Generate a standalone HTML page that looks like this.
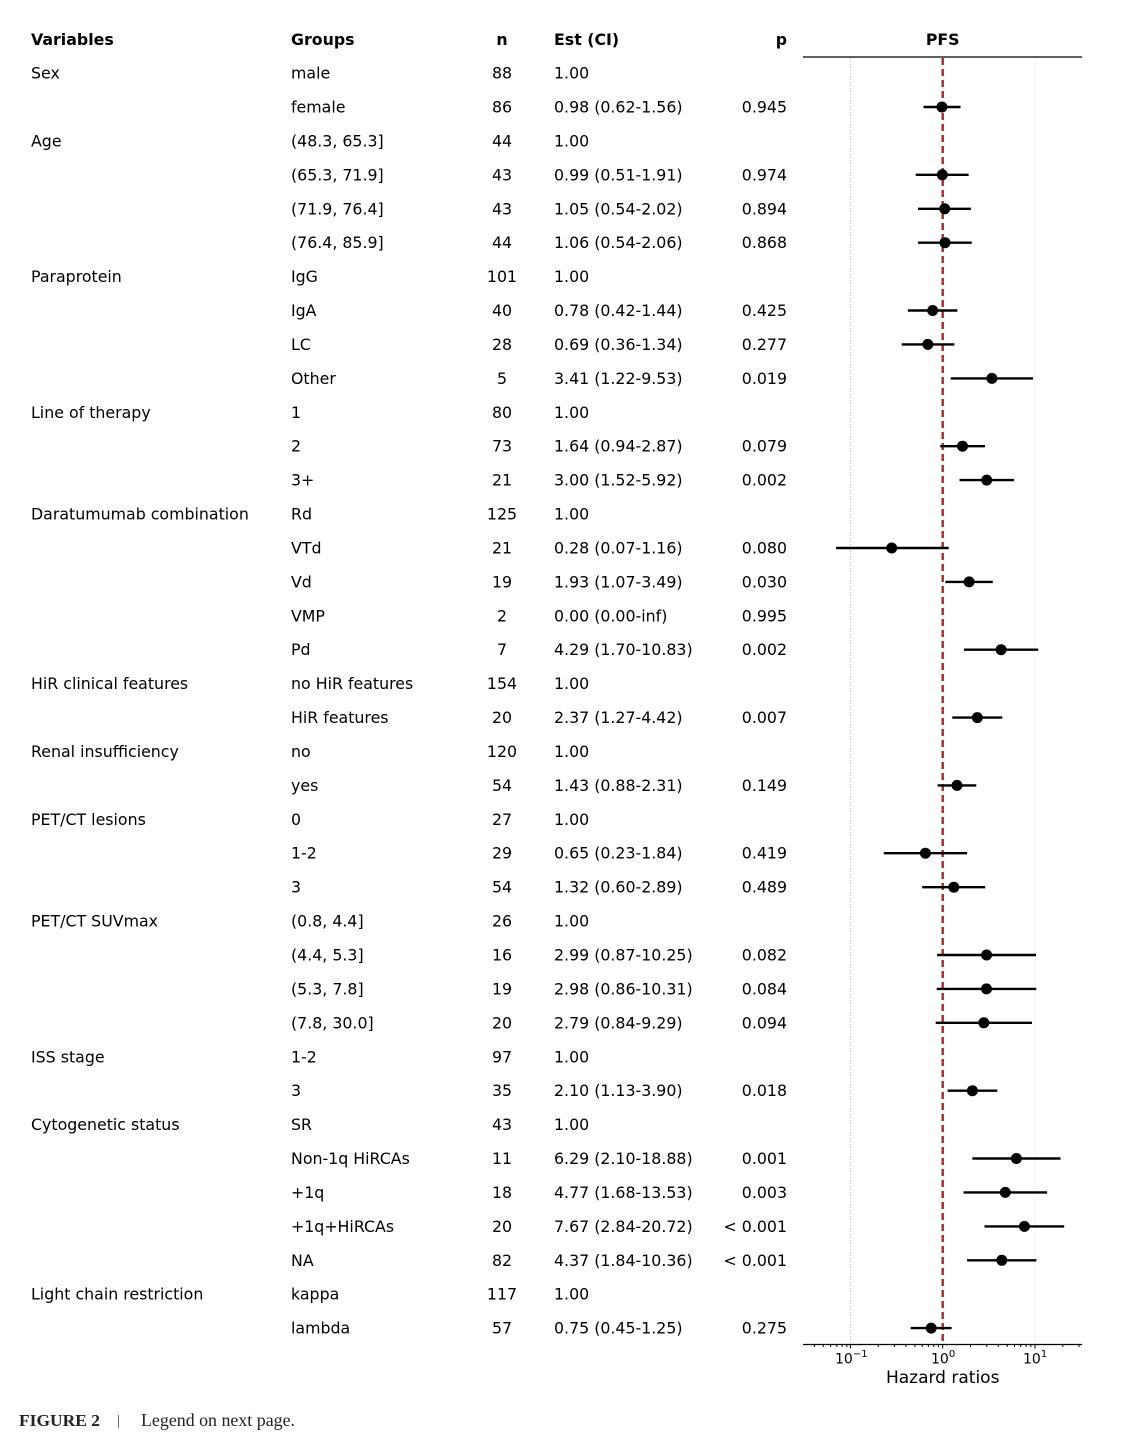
<!DOCTYPE html>
<html><head><meta charset="utf-8"><style>
html,body{margin:0;padding:0;background:#fff;}
svg{display:block;}
.t{font-family:"DejaVu Sans","Liberation Sans",sans-serif;font-size:15.8px;fill:#000;}
.b{font-weight:bold;}
.c{text-anchor:middle;}
.r{text-anchor:end;}
</style></head><body>
<svg width="1122" height="1442" viewBox="0 0 1122 1442" xmlns="http://www.w3.org/2000/svg">
<rect width="1122" height="1442" fill="#fff"/>
<!-- headers -->
<g class="t b">
<text x="31" y="45" class="t b">Variables</text>
<text x="291" y="45" class="t b">Groups</text>
<text x="502" y="45" class="t b c">n</text>
<text x="554" y="45" class="t b">Est (CI)</text>
<text x="787" y="45" class="t b r">p</text>
<text x="942.7" y="45" class="t b c">PFS</text>
</g>
<line x1="803" y1="57" x2="1082" y2="57" stroke="#000" stroke-width="1.2"/>
<!-- grid lines -->
<line x1="850.4" y1="58" x2="850.4" y2="1344" stroke="#b8b8b8" stroke-width="1" stroke-dasharray="1,2"/>
<line x1="1035" y1="58" x2="1035" y2="1344" stroke="#f2f2f2" stroke-width="1"/>
<line x1="942.7" y1="58" x2="942.7" y2="1344" stroke="#a52a2a" stroke-width="2.4" stroke-dasharray="7,4"/>
<!-- table text -->
<g class="t">
<text x="31" y="78.6">Sex</text><text x="291" y="78.6">male</text><text x="502" y="78.6" class="c">88</text><text x="554" y="78.6">1.00</text>
<text x="291" y="112.5">female</text><text x="502" y="112.5" class="c">86</text><text x="554" y="112.5">0.98 (0.62-1.56)</text><text x="787" y="112.5" class="r">0.945</text>
<text x="31" y="146.4">Age</text><text x="291" y="146.4">(48.3, 65.3]</text><text x="502" y="146.4" class="c">44</text><text x="554" y="146.4">1.00</text>
<text x="291" y="180.3">(65.3, 71.9]</text><text x="502" y="180.3" class="c">43</text><text x="554" y="180.3">0.99 (0.51-1.91)</text><text x="787" y="180.3" class="r">0.974</text>
<text x="291" y="214.3">(71.9, 76.4]</text><text x="502" y="214.3" class="c">43</text><text x="554" y="214.3">1.05 (0.54-2.02)</text><text x="787" y="214.3" class="r">0.894</text>
<text x="291" y="248.2">(76.4, 85.9]</text><text x="502" y="248.2" class="c">44</text><text x="554" y="248.2">1.06 (0.54-2.06)</text><text x="787" y="248.2" class="r">0.868</text>
<text x="31" y="282.1">Paraprotein</text><text x="291" y="282.1">IgG</text><text x="502" y="282.1" class="c">101</text><text x="554" y="282.1">1.00</text>
<text x="291" y="316">IgA</text><text x="502" y="316" class="c">40</text><text x="554" y="316">0.78 (0.42-1.44)</text><text x="787" y="316" class="r">0.425</text>
<text x="291" y="349.9">LC</text><text x="502" y="349.9" class="c">28</text><text x="554" y="349.9">0.69 (0.36-1.34)</text><text x="787" y="349.9" class="r">0.277</text>
<text x="291" y="383.9">Other</text><text x="502" y="383.9" class="c">5</text><text x="554" y="383.9">3.41 (1.22-9.53)</text><text x="787" y="383.9" class="r">0.019</text>
<text x="31" y="417.8">Line of therapy</text><text x="291" y="417.8">1</text><text x="502" y="417.8" class="c">80</text><text x="554" y="417.8">1.00</text>
<text x="291" y="451.7">2</text><text x="502" y="451.7" class="c">73</text><text x="554" y="451.7">1.64 (0.94-2.87)</text><text x="787" y="451.7" class="r">0.079</text>
<text x="291" y="485.6">3+</text><text x="502" y="485.6" class="c">21</text><text x="554" y="485.6">3.00 (1.52-5.92)</text><text x="787" y="485.6" class="r">0.002</text>
<text x="31" y="519.5">Daratumumab combination</text><text x="291" y="519.5">Rd</text><text x="502" y="519.5" class="c">125</text><text x="554" y="519.5">1.00</text>
<text x="291" y="553.5">VTd</text><text x="502" y="553.5" class="c">21</text><text x="554" y="553.5">0.28 (0.07-1.16)</text><text x="787" y="553.5" class="r">0.080</text>
<text x="291" y="587.4">Vd</text><text x="502" y="587.4" class="c">19</text><text x="554" y="587.4">1.93 (1.07-3.49)</text><text x="787" y="587.4" class="r">0.030</text>
<text x="291" y="621.3">VMP</text><text x="502" y="621.3" class="c">2</text><text x="554" y="621.3">0.00 (0.00-inf)</text><text x="787" y="621.3" class="r">0.995</text>
<text x="291" y="655.2">Pd</text><text x="502" y="655.2" class="c">7</text><text x="554" y="655.2">4.29 (1.70-10.83)</text><text x="787" y="655.2" class="r">0.002</text>
<text x="31" y="689.1">HiR clinical features</text><text x="291" y="689.1">no HiR features</text><text x="502" y="689.1" class="c">154</text><text x="554" y="689.1">1.00</text>
<text x="291" y="723.1">HiR features</text><text x="502" y="723.1" class="c">20</text><text x="554" y="723.1">2.37 (1.27-4.42)</text><text x="787" y="723.1" class="r">0.007</text>
<text x="31" y="757">Renal insufficiency</text><text x="291" y="757">no</text><text x="502" y="757" class="c">120</text><text x="554" y="757">1.00</text>
<text x="291" y="790.9">yes</text><text x="502" y="790.9" class="c">54</text><text x="554" y="790.9">1.43 (0.88-2.31)</text><text x="787" y="790.9" class="r">0.149</text>
<text x="31" y="824.8">PET/CT lesions</text><text x="291" y="824.8">0</text><text x="502" y="824.8" class="c">27</text><text x="554" y="824.8">1.00</text>
<text x="291" y="858.7">1-2</text><text x="502" y="858.7" class="c">29</text><text x="554" y="858.7">0.65 (0.23-1.84)</text><text x="787" y="858.7" class="r">0.419</text>
<text x="291" y="892.7">3</text><text x="502" y="892.7" class="c">54</text><text x="554" y="892.7">1.32 (0.60-2.89)</text><text x="787" y="892.7" class="r">0.489</text>
<text x="31" y="926.6">PET/CT SUVmax</text><text x="291" y="926.6">(0.8, 4.4]</text><text x="502" y="926.6" class="c">26</text><text x="554" y="926.6">1.00</text>
<text x="291" y="960.5">(4.4, 5.3]</text><text x="502" y="960.5" class="c">16</text><text x="554" y="960.5">2.99 (0.87-10.25)</text><text x="787" y="960.5" class="r">0.082</text>
<text x="291" y="994.4">(5.3, 7.8]</text><text x="502" y="994.4" class="c">19</text><text x="554" y="994.4">2.98 (0.86-10.31)</text><text x="787" y="994.4" class="r">0.084</text>
<text x="291" y="1028.3">(7.8, 30.0]</text><text x="502" y="1028.3" class="c">20</text><text x="554" y="1028.3">2.79 (0.84-9.29)</text><text x="787" y="1028.3" class="r">0.094</text>
<text x="31" y="1062.3">ISS stage</text><text x="291" y="1062.3">1-2</text><text x="502" y="1062.3" class="c">97</text><text x="554" y="1062.3">1.00</text>
<text x="291" y="1096.2">3</text><text x="502" y="1096.2" class="c">35</text><text x="554" y="1096.2">2.10 (1.13-3.90)</text><text x="787" y="1096.2" class="r">0.018</text>
<text x="31" y="1130.1">Cytogenetic status</text><text x="291" y="1130.1">SR</text><text x="502" y="1130.1" class="c">43</text><text x="554" y="1130.1">1.00</text>
<text x="291" y="1164">Non-1q HiRCAs</text><text x="502" y="1164" class="c">11</text><text x="554" y="1164">6.29 (2.10-18.88)</text><text x="787" y="1164" class="r">0.001</text>
<text x="291" y="1197.9">+1q</text><text x="502" y="1197.9" class="c">18</text><text x="554" y="1197.9">4.77 (1.68-13.53)</text><text x="787" y="1197.9" class="r">0.003</text>
<text x="291" y="1231.9">+1q+HiRCAs</text><text x="502" y="1231.9" class="c">20</text><text x="554" y="1231.9">7.67 (2.84-20.72)</text><text x="787" y="1231.9" class="r">&lt; 0.001</text>
<text x="291" y="1265.8">NA</text><text x="502" y="1265.8" class="c">82</text><text x="554" y="1265.8">4.37 (1.84-10.36)</text><text x="787" y="1265.8" class="r">&lt; 0.001</text>
<text x="31" y="1299.7">Light chain restriction</text><text x="291" y="1299.7">kappa</text><text x="502" y="1299.7" class="c">117</text><text x="554" y="1299.7">1.00</text>
<text x="291" y="1333.6">lambda</text><text x="502" y="1333.6" class="c">57</text><text x="554" y="1333.6">0.75 (0.45-1.25)</text><text x="787" y="1333.6" class="r">0.275</text>
</g>
<!-- CI lines -->
<g stroke="#000" stroke-width="2.4" fill="none">
<line x1="923.5" y1="107" x2="960.5" y2="107"/>
<line x1="915.7" y1="174.8" x2="968.6" y2="174.8"/>
<line x1="918.0" y1="208.8" x2="970.9" y2="208.8"/>
<line x1="918.0" y1="242.7" x2="971.7" y2="242.7"/>
<line x1="907.9" y1="310.5" x2="957.3" y2="310.5"/>
<line x1="901.7" y1="344.4" x2="954.4" y2="344.4"/>
<line x1="950.7" y1="378.4" x2="1033.1" y2="378.4"/>
<line x1="940.2" y1="446.2" x2="985.0" y2="446.2"/>
<line x1="959.5" y1="480.1" x2="1014.0" y2="480.1"/>
<line x1="836.1" y1="548" x2="948.7" y2="548"/>
<line x1="945.4" y1="581.9" x2="992.8" y2="581.9"/>
<line x1="964.0" y1="649.7" x2="1038.2" y2="649.7"/>
<line x1="952.3" y1="717.6" x2="1002.3" y2="717.6"/>
<line x1="937.6" y1="785.4" x2="976.3" y2="785.4"/>
<line x1="883.8" y1="853.2" x2="967.1" y2="853.2"/>
<line x1="922.2" y1="887.2" x2="985.2" y2="887.2"/>
<line x1="937.1" y1="955" x2="1036.0" y2="955"/>
<line x1="936.7" y1="988.9" x2="1036.2" y2="988.9"/>
<line x1="935.7" y1="1022.8" x2="1032.0" y2="1022.8"/>
<line x1="947.6" y1="1090.7" x2="997.3" y2="1090.7"/>
<line x1="972.4" y1="1158.5" x2="1060.5" y2="1158.5"/>
<line x1="963.5" y1="1192.4" x2="1047.1" y2="1192.4"/>
<line x1="984.5" y1="1226.4" x2="1064.2" y2="1226.4"/>
<line x1="967.1" y1="1260.3" x2="1036.4" y2="1260.3"/>
<line x1="910.7" y1="1328.1" x2="951.6" y2="1328.1"/>
</g>
<!-- markers -->
<g fill="#000">
<circle cx="941.9" cy="107" r="5.5"/>
<circle cx="942.3" cy="174.8" r="5.5"/>
<circle cx="944.7" cy="208.8" r="5.5"/>
<circle cx="945.0" cy="242.7" r="5.5"/>
<circle cx="932.7" cy="310.5" r="5.5"/>
<circle cx="927.8" cy="344.4" r="5.5"/>
<circle cx="991.9" cy="378.4" r="5.5"/>
<circle cx="962.5" cy="446.2" r="5.5"/>
<circle cx="986.7" cy="480.1" r="5.5"/>
<circle cx="891.7" cy="548" r="5.5"/>
<circle cx="969.1" cy="581.9" r="5.5"/>
<circle cx="1001.1" cy="649.7" r="5.5"/>
<circle cx="977.3" cy="717.6" r="5.5"/>
<circle cx="957.0" cy="785.4" r="5.5"/>
<circle cx="925.4" cy="853.2" r="5.5"/>
<circle cx="953.8" cy="887.2" r="5.5"/>
<circle cx="986.6" cy="955" r="5.5"/>
<circle cx="986.5" cy="988.9" r="5.5"/>
<circle cx="983.8" cy="1022.8" r="5.5"/>
<circle cx="972.4" cy="1090.7" r="5.5"/>
<circle cx="1016.4" cy="1158.5" r="5.5"/>
<circle cx="1005.3" cy="1192.4" r="5.5"/>
<circle cx="1024.4" cy="1226.4" r="5.5"/>
<circle cx="1001.8" cy="1260.3" r="5.5"/>
<circle cx="931.2" cy="1328.1" r="5.5"/>
</g>
<!-- x axis -->
<line x1="803" y1="1344.5" x2="1082" y2="1344.5" stroke="#000" stroke-width="1.2"/>
<g stroke="#000" stroke-width="1">
<line x1="850.4" y1="1344.5" x2="850.4" y2="1348.5"/>
<line x1="942.7" y1="1344.5" x2="942.7" y2="1348.5"/>
<line x1="1035" y1="1344.5" x2="1035" y2="1348.5"/>
<!-- minor -->
<line x1="814.4" y1="1344.5" x2="814.4" y2="1347"/>
<line x1="823.3" y1="1344.5" x2="823.3" y2="1347"/>
<line x1="830.6" y1="1344.5" x2="830.6" y2="1347"/>
<line x1="836.8" y1="1344.5" x2="836.8" y2="1347"/>
<line x1="842.1" y1="1344.5" x2="842.1" y2="1347"/>
<line x1="846.8" y1="1344.5" x2="846.8" y2="1347"/>
<line x1="878.2" y1="1344.5" x2="878.2" y2="1347"/>
<line x1="894.4" y1="1344.5" x2="894.4" y2="1347"/>
<line x1="905.9" y1="1344.5" x2="905.9" y2="1347"/>
<line x1="914.9" y1="1344.5" x2="914.9" y2="1347"/>
<line x1="922.2" y1="1344.5" x2="922.2" y2="1347"/>
<line x1="928.4" y1="1344.5" x2="928.4" y2="1347"/>
<line x1="933.8" y1="1344.5" x2="933.8" y2="1347"/>
<line x1="938.5" y1="1344.5" x2="938.5" y2="1347"/>
<line x1="970.5" y1="1344.5" x2="970.5" y2="1347"/>
<line x1="986.7" y1="1344.5" x2="986.7" y2="1347"/>
<line x1="998.3" y1="1344.5" x2="998.3" y2="1347"/>
<line x1="1007.2" y1="1344.5" x2="1007.2" y2="1347"/>
<line x1="1014.5" y1="1344.5" x2="1014.5" y2="1347"/>
<line x1="1020.7" y1="1344.5" x2="1020.7" y2="1347"/>
<line x1="1026.1" y1="1344.5" x2="1026.1" y2="1347"/>
<line x1="1030.8" y1="1344.5" x2="1030.8" y2="1347"/>
<line x1="1062.8" y1="1344.5" x2="1062.8" y2="1347"/>
<line x1="1079.0" y1="1344.5" x2="1079.0" y2="1347"/>
</g>
<g font-family="DejaVu Sans, Liberation Sans, sans-serif" fill="#000">
<text x="835" y="1363.5" font-size="14">10<tspan font-size="10" dy="-6.5">−1</tspan></text>
<text x="931" y="1363.5" font-size="14">10<tspan font-size="10" dy="-6.5">0</tspan></text>
<text x="1023" y="1363.5" font-size="14">10<tspan font-size="10" dy="-6.5">1</tspan></text>
<text x="942.7" y="1383" font-size="17" text-anchor="middle">Hazard ratios</text>
</g>
<!-- caption -->
<text x="19" y="1426" font-family="Liberation Serif, serif" font-weight="bold" font-size="17" fill="#222" textLength="81" lengthAdjust="spacingAndGlyphs">FIGURE 2</text>
<text x="117" y="1425" font-family="Liberation Serif, serif" font-size="15" fill="#444">|</text>
<text x="141" y="1426" font-family="Liberation Serif, serif" font-size="17.5" fill="#222" textLength="154" lengthAdjust="spacingAndGlyphs">Legend on next page.</text>
</svg>
</body></html>
